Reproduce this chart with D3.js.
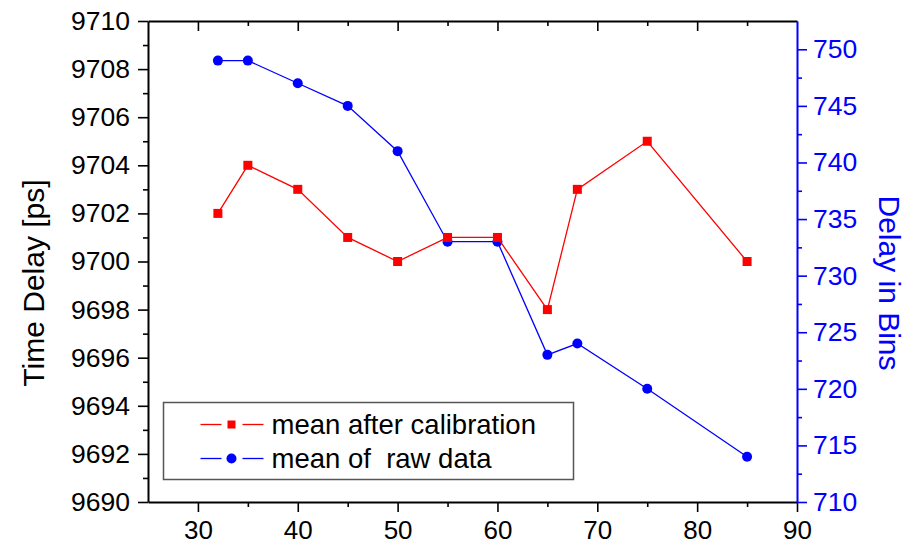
<!DOCTYPE html>
<html>
<head>
<meta charset="utf-8">
<script src="https://cdn.jsdelivr.net/npm/d3@7"></script>
<style>
  body { margin: 0; background: #fff; }
  svg { display: block; font-family: "Liberation Sans", Arial, sans-serif; }
</style>
</head>
<body>
<div id="chart"></div>
<script>
// data
var temps = [32, 35, 40, 45, 50, 55, 60, 65, 68, 75, 85];
var calibrated = [9702, 9704, 9703, 9701, 9700, 9701, 9701, 9698, 9703, 9705, 9700];
var rawBins = [749, 749, 747, 745, 741, 733, 733, 723, 724, 720, 714];

var xTicks = [30, 40, 50, 60, 70, 80, 90];
var xMinor = [35, 45, 55, 65, 75, 85];
var leftTicks = d3.range(9690, 9711, 2);
var leftMinor = d3.range(9691, 9710, 2);
var rightTicks = [710, 715, 720, 725, 730, 735, 740, 745, 750];
var rightMinor = [712.5, 717.5, 722.5, 727.5, 732.5, 737.5, 742.5, 747.5];

var seriesNames = ["mean after calibration", "mean of  raw data"];

var W = 914, H = 544;
var margin = {top: 21, right: 117, bottom: 42, left: 148};
var width = W - margin.left - margin.right;
var height = H - margin.top - margin.bottom;

var svg = d3.select("#chart").append("svg")
    .attr("width", W)
    .attr("height", H);

var g = svg.append("g")
    .attr("transform", `translate(${margin.left},${margin.top})`);

var x = d3.scaleLinear().domain([25, 90]).range([0, width]);
var yL = d3.scaleLinear().domain([9690, 9710]).range([height, 0]);
var yR = d3.scaleLinear().domain([710, 752.5]).range([height, 0]);

function styleAxis(sel, color, size) {
    sel.select(".domain").attr("stroke", color).attr("stroke-width", 2);
    sel.selectAll(".tick line").attr("stroke", color).attr("stroke-width", 1.6);
    sel.selectAll(".tick text").attr("fill", color).attr("font-size", size)
        .attr("font-family", "'Liberation Sans', Arial, sans-serif");
}

function minorTicks(s, color) {
    s.select(".domain").remove();
    s.selectAll("line").attr("stroke", color).attr("stroke-width", 1.6);
}

// left axis
var gl = g.append("g")
    .call(d3.axisLeft(yL).tickValues(leftTicks).tickFormat(d3.format("d"))
        .tickSize(10).tickPadding(8).tickSizeOuter(0));
styleAxis(gl, "#000", 26.5);
g.append("g")
    .call(d3.axisLeft(yL).tickValues(leftMinor).tickSize(5).tickFormat("").tickSizeOuter(0))
    .call(minorTicks, "#000");

// bottom axis
var gb = g.append("g")
    .attr("transform", `translate(0,${height})`)
    .call(d3.axisBottom(x).tickValues(xTicks).tickSize(10).tickPadding(9).tickSizeOuter(0));
styleAxis(gb, "#000", 26);
g.append("g")
    .attr("transform", `translate(0,${height})`)
    .call(d3.axisBottom(x).tickValues(xMinor).tickSize(5).tickFormat("").tickSizeOuter(0))
    .call(minorTicks, "#000");

// top axis, ticks pointing inward
var gt = g.append("g")
    .call(d3.axisBottom(x).tickValues(xTicks.filter(d => d < 90)).tickSize(10).tickFormat("").tickSizeOuter(0));
styleAxis(gt, "#000", 26);
g.append("g")
    .call(d3.axisBottom(x).tickValues(xMinor).tickSize(5).tickFormat("").tickSizeOuter(0))
    .call(minorTicks, "#000");

// right axis (blue)
var gr = g.append("g")
    .attr("transform", `translate(${width},0)`)
    .call(d3.axisRight(yR).tickValues(rightTicks).tickSize(10).tickPadding(6).tickSizeOuter(0));
styleAxis(gr, "#0000ff", 26.5);
g.append("g")
    .attr("transform", `translate(${width},0)`)
    .call(d3.axisRight(yR).tickValues(rightMinor).tickSize(5).tickFormat("").tickSizeOuter(0))
    .call(minorTicks, "#0000ff");

// axis titles
svg.append("text")
    .attr("transform", "translate(44,283) rotate(-90)")
    .attr("text-anchor", "middle")
    .attr("font-size", 30)
    .attr("fill", "#000")
    .text("Time Delay [ps]");

svg.append("text")
    .attr("transform", "translate(879,283) rotate(90)")
    .attr("text-anchor", "middle")
    .attr("font-size", 30)
    .attr("fill", "#0000ff")
    .text("Delay in Bins");

// series
var redLine = d3.line().x((d, i) => x(temps[i])).y(d => yL(d));
var blueLine = d3.line().x((d, i) => x(temps[i])).y(d => yR(d));

g.append("path").datum(rawBins)
    .attr("d", blueLine)
    .attr("fill", "none")
    .attr("stroke", "#0000ff")
    .attr("stroke-width", 1.3);

g.selectAll(".dotB").data(rawBins).enter().append("circle")
    .attr("class", "dotB")
    .attr("cx", (d, i) => x(temps[i]))
    .attr("cy", d => yR(d))
    .attr("r", 5)
    .attr("fill", "#0000ff");

g.append("path").datum(calibrated)
    .attr("d", redLine)
    .attr("fill", "none")
    .attr("stroke", "#ff0000")
    .attr("stroke-width", 1.3);

g.selectAll(".sqR").data(calibrated).enter().append("rect")
    .attr("class", "sqR")
    .attr("x", (d, i) => x(temps[i]) - 4.5)
    .attr("y", d => yL(d) - 4.5)
    .attr("width", 9)
    .attr("height", 9)
    .attr("fill", "#ff0000");

// legend
var lg = svg.append("g").attr("transform", "translate(163.5,402.5)");
lg.append("rect")
    .attr("width", 410)
    .attr("height", 77)
    .attr("fill", "#fff")
    .attr("stroke", "#555")
    .attr("stroke-width", 1.5);

var colors = ["#ff0000", "#0000ff"];
seriesNames.forEach(function(name, i) {
    var ry = 22 + i * 34;
    var row = lg.append("g").attr("transform", `translate(0,${ry})`);
    row.append("line").attr("x1", 37).attr("x2", 58).attr("y1", 0).attr("y2", 0)
        .attr("stroke", colors[i]).attr("stroke-width", 1.3);
    row.append("line").attr("x1", 79).attr("x2", 100).attr("y1", 0).attr("y2", 0)
        .attr("stroke", colors[i]).attr("stroke-width", 1.3);
    if (i === 0) {
        row.append("rect").attr("x", 64).attr("y", -4).attr("width", 8).attr("height", 8).attr("fill", colors[i]);
    } else {
        row.append("circle").attr("cx", 68).attr("cy", 0).attr("r", 5).attr("fill", colors[i]);
    }
    row.append("text")
        .attr("x", 108)
        .attr("y", 0)
        .attr("dy", "0.35em")
        .attr("font-size", 27.5)
        .attr("fill", "#000")
        .style("white-space", "pre")
        .text(name);
});
</script>
</body>
</html>
